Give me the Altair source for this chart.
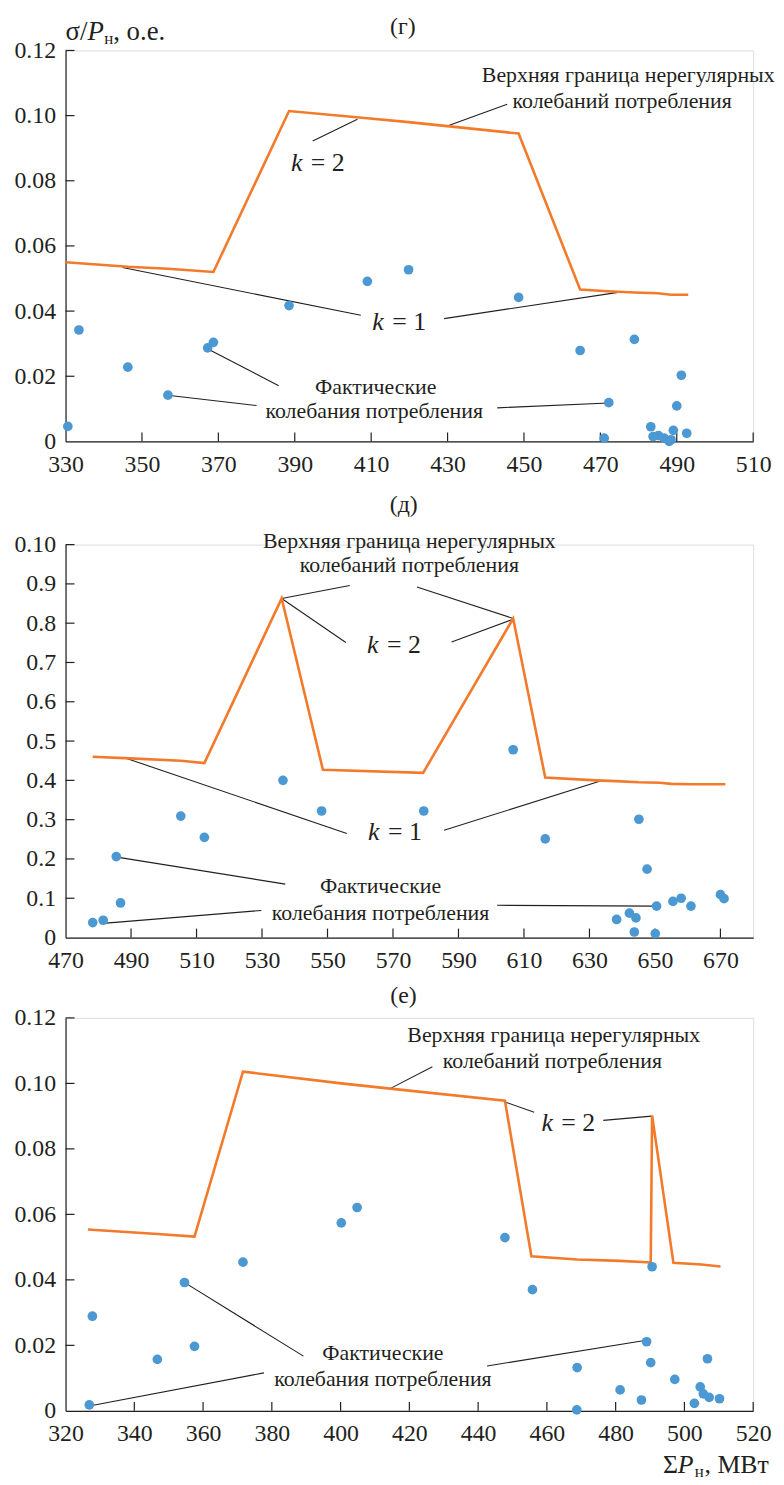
import altair as alt
import pandas as pd

FONT = "'Liberation Serif', 'Times New Roman', Tinos, serif"
INK = "#231f20"
ORANGE = "#F27A2A"
BLUE = "#4B98D3"

# ---------------- panel (г) ----------------
G_PX = [330.6, 333.5, 346.3, 356.8, 367.2, 368.7, 388.5, 409.0, 419.8, 448.6, 464.7, 472.2, 471.0,
        478.9, 491.2, 490.0, 492.6, 483.2, 483.8, 485.2, 486.7, 488.0, 488.5, 489.1]
G_PY = [0.0046, 0.0342, 0.0228, 0.0142, 0.0287, 0.0304, 0.0417, 0.0491, 0.0527, 0.0442, 0.0279, 0.0119, 0.0010,
        0.0313, 0.0203, 0.0109, 0.0025, 0.0045, 0.0015, 0.0018, 0.0010, 0.0000, 0.0005, 0.0034]
G_LX = [330, 346.3, 356.8, 368.7, 388.5, 409.0, 419.8, 448.6, 464.7, 471.8, 478.9, 485.0, 488.5, 493.0]
G_LY = [0.0550, 0.0536, 0.0530, 0.0520, 0.1014, 0.0992, 0.0980, 0.0945, 0.0466, 0.0461, 0.0457, 0.0455, 0.0450, 0.0450]
G_XDOM = [330, 510]
G_XTICKS = [330, 350, 370, 390, 410, 430, 450, 470, 490, 510]
G_YDOM = [0, 0.12]
G_YTICKS = [0, 0.02, 0.04, 0.06, 0.08, 0.10, 0.12]
G_YLABELS = ["0", "0.02", "0.04", "0.06", "0.08", "0.10", "0.12"]

# ---------------- panel (д) ----------------
D_PX = [478.3, 481.5, 485.5, 486.8, 505.2, 512.4, 536.4, 548.2, 579.4, 606.7, 616.5, 645.1, 647.6, 638.3,
        642.2, 644.2, 643.7, 650.5, 650.1, 655.5, 658.0, 661.0, 670.0, 671.1]
D_PY = [0.038, 0.044, 0.206, 0.088, 0.309, 0.255, 0.400, 0.322, 0.322, 0.478, 0.251, 0.301, 0.174, 0.046,
        0.062, 0.050, 0.014, 0.080, 0.010, 0.092, 0.100, 0.080, 0.109, 0.099]
D_LX = [478.3, 489.7, 505.2, 512.4, 536.0, 548.6, 579.2, 606.7, 616.5, 632.0, 638.2, 645.0, 651.5, 655.0, 661.0, 671.5]
D_LY = [0.460, 0.456, 0.450, 0.444, 0.863, 0.427, 0.419, 0.812, 0.407, 0.400, 0.398, 0.395, 0.394, 0.391, 0.390, 0.390]
D_XDOM = [470, 680]
D_XTICKS = [470, 490, 510, 530, 550, 570, 590, 610, 630, 650, 670]
D_YDOM = [0, 1.0]
D_YTICKS = [0, 0.1, 0.2, 0.3, 0.4, 0.5, 0.6, 0.7, 0.8, 0.9, 1.0]
D_YLABELS = ["0", "0.1", "0.2", "0.3", "0.4", "0.5", "0.6", "0.7", "0.8", "0.9", "0.10"]

# ---------------- panel (е) ----------------
E_PX = [326.9, 327.8, 346.7, 354.6, 357.5, 371.6, 400.2, 404.8, 447.8, 455.8, 468.8, 468.7, 481.3, 487.5,
        489.0, 490.2, 490.6, 497.2, 502.9, 504.6, 505.5, 506.7, 507.2, 510.2]
E_PY = [0.0018, 0.0289, 0.0157, 0.0392, 0.0197, 0.0454, 0.0574, 0.0621, 0.0529, 0.0370, 0.0132, 0.0003, 0.0064,
        0.0033, 0.0211, 0.0147, 0.0440, 0.0096, 0.0023, 0.0073, 0.0052, 0.0159, 0.0041, 0.0037]
E_LX = [326.5, 346.7, 357.5, 371.6, 400.2, 414.4, 447.8, 455.5, 468.8, 481.3, 490.2, 490.6, 496.8, 505.0, 510.5]
E_LY = [0.0554, 0.0540, 0.0532, 0.1036, 0.1000, 0.0984, 0.0947, 0.0472, 0.0462, 0.0458, 0.0453, 0.0902,
        0.0452, 0.0447, 0.0441]
E_XDOM = [320, 520]
E_XTICKS = [320, 340, 360, 380, 400, 420, 440, 460, 480, 500, 520]
E_YDOM = [0, 0.12]
E_YTICKS = G_YTICKS
E_YLABELS = G_YLABELS

UP1 = "Верхняя граница нерегулярных"
UP2 = "колебаний потребления"
FA1 = "Фактические"
FA2 = "колебания потребления"
AS = 22  # annotation font size

# annotation texts placed in data units: (text, x, y, size, style, align, dx, dy)
G_TEXTS = [
    ("(г)", 418.3, 0.1272, 24, "normal", "center", 0, 0),
    (UP1, 477.3, 0.1126, AS, "normal", "center", 0, 0),
    (UP2, 475.7, 0.1044, AS, "normal", "center", 0, 0),
    ("k", 389.0, 0.0855, 26, "italic", "left", 0, 0),
    ("= 2", 389.0, 0.0855, 26, "normal", "left", 20, 0),
    ("k", 410.3, 0.0365, 26, "italic", "left", 0, 0),
    ("= 1", 410.3, 0.0365, 26, "normal", "left", 20, 0),
    (FA1, 411.2, 0.0167, AS, "normal", "center", 0, 0),
    (FA2, 410.8, 0.0092, AS, "normal", "center", 0, 0),
]
# axis-title pieces placed relative to the plot frame: (text, size, style, x offset, y offset)
G_TITLE = [
    ("σ/", 27, "normal", 0, -19),
    ("P", 27, "italic", 22, -19),
    ("н", 17, "normal", 39, -12),
    (", о.е.", 27, "normal", 48, -19),
]
G_LEAD = [
    (445.6, 0.1035, 429.4, 0.0966),
    (394.7, 0.0922, 406.4, 0.0989),
    (407.3, 0.0387, 344.9, 0.0534),
    (429.1, 0.0377, 475.5, 0.0459),
    (385.8, 0.0171, 367.4, 0.0283),
    (380.0, 0.0110, 357.3, 0.0141),
    (443.0, 0.0103, 472.2, 0.0118),
]

D_TEXTS = [
    ("(д)", 573.3, 1.100, 24, "normal", "center", 0, 0),
    (UP1, 575.0, 1.010, AS, "normal", "center", 0, 0),
    (UP2, 575.0, 0.947, AS, "normal", "center", 0, 0),
    ("k", 562.1, 0.745, 26, "italic", "left", 0, 0),
    ("= 2", 562.1, 0.745, 26, "normal", "left", 20, 0),
    ("k", 562.4, 0.269, 26, "italic", "left", 0, 0),
    ("= 1", 562.4, 0.269, 26, "normal", "left", 20, 0),
    (FA1, 566.2, 0.130, AS, "normal", "center", 0, 0),
    (FA2, 566.2, 0.063, AS, "normal", "center", 0, 0),
]
D_LEAD = [
    (556.8, 0.896, 536.0, 0.863),
    (577.3, 0.892, 606.7, 0.812),
    (555.6, 0.751, 536.0, 0.863),
    (587.9, 0.752, 606.7, 0.810),
    (555.9, 0.265, 488.9, 0.455),
    (585.6, 0.273, 633.6, 0.399),
    (537.1, 0.136, 486.2, 0.204),
    (529.8, 0.069, 481.4, 0.036),
    (601.8, 0.082, 650.3, 0.080),
]

E_TEXTS = [
    ("(е)", 418.3, 0.1267, 24, "normal", "center", 0, 0),
    (UP1, 462.0, 0.1148, AS, "normal", "center", 0, 0),
    (UP2, 461.6, 0.1069, AS, "normal", "center", 0, 0),
    ("k", 458.4, 0.0879, 26, "italic", "left", 0, 0),
    ("= 2", 458.4, 0.0879, 26, "normal", "left", 20, 0),
    (FA1, 412.3, 0.0177, AS, "normal", "center", 0, 0),
    (FA2, 412.3, 0.0096, AS, "normal", "center", 0, 0),
]
E_TITLE = [
    ("Σ", 26, "normal", 602, 55),
    ("P", 26, "italic", 617, 55),
    ("н", 17, "normal", 634, 62),
    (", МВт", 26, "normal", 644, 55),
]
E_LEAD = [
    (426.7, 0.1051, 414.4, 0.0984),
    (456.3, 0.0912, 447.6, 0.0944),
    (476.4, 0.0887, 490.5, 0.0900),
    (389.2, 0.0167, 354.9, 0.0390),
    (377.7, 0.0116, 326.9, 0.0015),
    (442.6, 0.0137, 488.0, 0.0214),
]

W = 693
TICK = 9


def label_expr(vals, labels):
    expr = "''"
    for v, l in reversed(list(zip(vals, labels))):
        expr = f"(abs(datum.value - {v}) < 1e-9 ? '{l}' : {expr})"
    return expr


def panel(px, py, lx, ly, xdom, xticks, ydom, yticks, ylabels, texts, title, leads, height):
    xs = alt.Scale(domain=xdom, nice=False, zero=False)
    ys = alt.Scale(domain=ydom, nice=False, zero=False)
    xaxis = alt.Axis(values=xticks, title=None, grid=False, ticks=False, labelFlush=False,
                     labelOverlap=False, labelPadding=11, labelFontSize=24, labelFont=FONT,
                     labelColor=INK, domainColor=INK, domainWidth=1.2, format="d")
    yaxis = alt.Axis(values=yticks, title=None, grid=False, ticks=False, labelFlush=False,
                     labelOverlap=False, labelPadding=10, labelFontSize=24, labelFont=FONT,
                     labelColor=INK, domainColor=INK, domainWidth=1.2,
                     labelExpr=label_expr(yticks, ylabels))

    def X(f="x"):
        return alt.X(f"{f}:Q", scale=xs, axis=xaxis)

    def Y(f="y"):
        return alt.Y(f"{f}:Q", scale=ys, axis=yaxis)

    layers = []
    xt = pd.DataFrame({"v": xticks[1:]})
    layers.append(alt.Chart(xt).mark_rule(color=INK, strokeWidth=1.2).encode(
        x=X("v"), y=alt.value(height), y2=alt.value(height - TICK)))
    yt = pd.DataFrame({"v": yticks[1:]})
    layers.append(alt.Chart(yt).mark_rule(color=INK, strokeWidth=1.2).encode(
        y=Y("v"), x=alt.value(0), x2=alt.value(TICK)))

    ld = pd.DataFrame(leads, columns=["x", "y", "x2", "y2"])
    layers.append(alt.Chart(ld).mark_rule(color=INK, strokeWidth=1.1).encode(
        x=X(), y=Y(), x2="x2:Q", y2="y2:Q"))

    line = pd.DataFrame({"x": lx, "y": ly, "o": list(range(len(lx)))})
    layers.append(alt.Chart(line).mark_line(color=ORANGE, strokeWidth=2.6).encode(
        x=X(), y=Y(), order="o:Q"))

    pts = pd.DataFrame({"x": px, "y": py})
    layers.append(alt.Chart(pts).mark_circle(color=BLUE, size=95, opacity=1).encode(x=X(), y=Y()))

    for (t, tx, ty, size, style, align, dx, dy) in texts:
        df = pd.DataFrame({"x": [tx], "y": [ty], "t": [t]})
        layers.append(alt.Chart(df).mark_text(
            font=FONT, fontSize=size, fontStyle=style, align=align, baseline="middle",
            dx=dx, dy=dy, color=INK).encode(x=X(), y=Y(), text="t:N"))

    for (t, size, style, ox, oy) in title:
        df = pd.DataFrame({"t": [t]})
        layers.append(alt.Chart(df).mark_text(
            font=FONT, fontSize=size, fontStyle=style, align="left", baseline="middle",
            color=INK).encode(x=alt.value(ox), y=alt.value(oy if oy < 0 else height + oy), text="t:N"))

    return alt.layer(*layers).properties(width=W, height=height)


g = panel(G_PX, G_PY, G_LX, G_LY, G_XDOM, G_XTICKS, G_YDOM, G_YTICKS, G_YLABELS,
          G_TEXTS, G_TITLE, G_LEAD, 394)
d = panel(D_PX, D_PY, D_LX, D_LY, D_XDOM, D_XTICKS, D_YDOM, D_YTICKS, D_YLABELS,
          D_TEXTS, [], D_LEAD, 396)
e = panel(E_PX, E_PY, E_LX, E_LY, E_XDOM, E_XTICKS, E_YDOM, E_YTICKS, E_YLABELS,
          E_TEXTS, E_TITLE, E_LEAD, 396)

inner = alt.vconcat(d, e, spacing=81, bounds="flush")
chart = alt.vconcat(g, inner, spacing=104, bounds="flush").properties(
    padding={"left": 5, "top": 0, "right": 0, "bottom": 5}
).configure_view(stroke=None).configure(font=FONT)

chart.save("out.html", embed_options={"renderer": "svg", "actions": False})
